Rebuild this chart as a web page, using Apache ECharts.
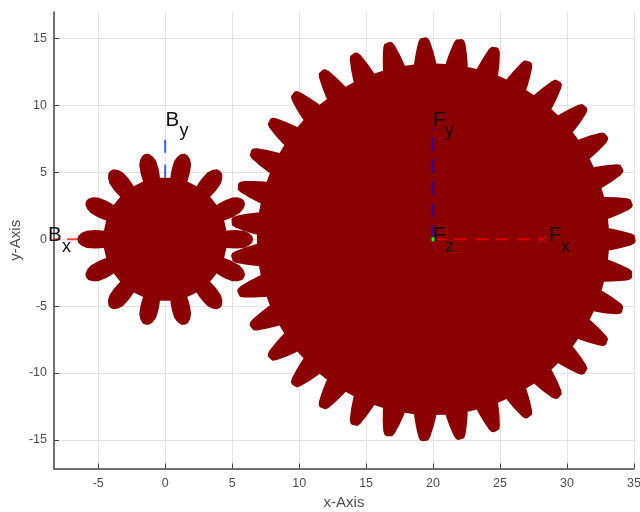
<!DOCTYPE html>
<html>
<head>
<meta charset="utf-8">
<style>html,body{margin:0;padding:0;background:#fff}#c{width:640px;height:512px;filter:blur(0.5px)}</style>
<script src="https://cdn.jsdelivr.net/npm/echarts@6/dist/echarts.min.js"></script>
</head>
<body>
<div id="c"></div>
<script>
const xTicks = [-5, 0, 5, 10, 15, 20, 25, 30, 35];
const yTicks = [-15, -10, -5, 0, 5, 10, 15];
const gearCenterX = [0, 20];
const gearCenterY = [0, 0];
const gearTeeth = [14, 35];
// tooth outline: radius, half angle in degrees, root to tip
const smallToothRadius = [4.62, 4.9, 5.3, 5.9, 6.25, 6.5, 6.56];
const smallToothHalfAngle = [8.0, 7.9, 7.5, 6.3, 4.5, 2.2, 0];
const largeToothRadius = [13.15, 13.3, 14.05, 14.8, 15.05, 15.13];
const largeToothHalfAngle = [3.6, 3.5, 2.65, 1.7, 1.14, 0.5];
const bxLine = [[-0.37, 0], [-8.4, 0]];
const byLine = [[0, -1.0], [0, 8.34]];
const fxLine = [[20, 0], [28.2, 0]];
const fyLine = [[20, 0], [20, 8.34]];
const fzLine = [[20, -0.15], [20, 0.15]];
const fxMark = [[28.2, 0]];
const labelMain = ['B', 'B', 'F', 'F', 'F'];
const labelSub = ['x', 'y', 'x', 'y', 'z'];
const labelX = [-8.74, 0.02, 28.66, 20, 20];
const labelY = [-0.26, 8.41, -0.26, 8.41, -0.26];

function gearPoints(api, idx) {
  const radii = idx === 0 ? smallToothRadius : largeToothRadius;
  const half = idx === 0 ? smallToothHalfAngle : largeToothHalfAngle;
  const pts = [];
  const push = (r, deg) => {
    const a = deg * Math.PI / 180;
    pts.push(api.coord([gearCenterX[idx] + r * Math.cos(a), gearCenterY[idx] + r * Math.sin(a)]));
  };
  for (let t = 0; t < gearTeeth[idx]; t++) {
    const c = t * 360 / gearTeeth[idx];
    for (let i = 0; i < radii.length; i++) push(radii[i], c - half[i]);
    for (let i = radii.length - 2; i >= 0; i--) push(radii[i], c + half[i]);
  }
  return pts;
}
const lineSeries = (data, color, z, dash, width) => ({
  type: 'line', data, z, showSymbol: false, silent: true, clip: false,
  lineStyle: { color, width: width || 2, type: dash || 'solid', cap: 'butt' }
});
const font = 'Liberation Sans, Arial, sans-serif';
const axisCommon = {
  type: 'value',
  nameLocation: 'middle',
  nameMoveOverlap: false,
  nameTextStyle: { color: '#4d4d4d', fontSize: 15, fontFamily: font },
  axisLine: { show: true, onZero: false, lineStyle: { color: '#404040', width: 1.5 } },
  splitLine: { show: true, lineStyle: { color: '#e2e2e2', width: 1 } }
};
const chart = echarts.init(document.getElementById('c'), null, { renderer: 'canvas' });
chart.setOption({
  animation: false,
  backgroundColor: '#fff',
  grid: { left: 54, right: 6, top: 12, bottom: 43.5, outerBoundsMode: 'none' },
  xAxis: Object.assign({}, axisCommon, {
    min: -8.3, max: 35, name: 'x-Axis', nameGap: 27,
    axisTick: { show: true, inside: true, length: 5, customValues: xTicks, lineStyle: { color: '#404040', width: 1 } },
    axisLabel: { customValues: xTicks, color: '#4d4d4d', fontSize: 12.5, fontFamily: font, margin: 9 }
  }),
  yAxis: Object.assign({}, axisCommon, {
    min: -17.14, max: 17, name: 'y-Axis', nameGap: 31,
    axisTick: { show: true, inside: true, length: 5, customValues: yTicks, lineStyle: { color: '#404040', width: 1 } },
    axisLabel: { customValues: yTicks, color: '#4d4d4d', fontSize: 12.5, fontFamily: font, margin: 7 }
  }),
  series: [
    lineSeries(bxLine, '#ff4040', 1, [13, 7]),
    lineSeries(byLine, '#4060f0', 1, [13, 12]),
    {
      type: 'custom', z: 2, silent: true, coordinateSystem: 'cartesian2d',
      data: gearTeeth.map((n, i) => [gearCenterX[i], gearCenterY[i], n]),
      encode: { x: 0, y: 1 },
      renderItem: (params, api) => ({
        type: 'polygon',
        shape: { points: gearPoints(api, params.dataIndex) },
        style: { fill: '#8b0000' }
      })
    },
    lineSeries(fyLine, '#3a0090', 3, [14, 8]),
    lineSeries(fxLine, '#dd0000', 3, [12.5, 8.5]),
    lineSeries(fzLine, '#22ff00', 4, null, 3),
    {
      type: 'scatter', data: fxMark, z: 4, silent: true, symbolSize: 7,
      symbol: 'path://M0,0L10,10M10,0L0,10',
      itemStyle: { color: 'none', borderColor: '#ee1010', borderWidth: 1 }
    },
    {
      type: 'custom', z: 5, silent: true, coordinateSystem: 'cartesian2d', clip: false,
      data: labelMain.map((m, i) => [labelX[i], labelY[i]]),
      encode: { x: 0, y: 1 },
      renderItem: (params, api) => {
        const i = params.dataIndex;
        const p = api.coord([labelX[i], labelY[i]]);
        const dx = labelMain[i] === 'B' ? 14 : 12;
        return {
          type: 'group',
          children: [
            { type: 'text', style: { text: labelMain[i], x: p[0], y: p[1] - 7, fill: '#111', fontSize: 20.5, fontFamily: font, align: 'left', verticalAlign: 'middle' } },
            { type: 'text', style: { text: labelSub[i], x: p[0] + dx, y: p[1] + 4, fill: '#111', fontSize: 18, fontFamily: font, align: 'left', verticalAlign: 'middle' } }
          ]
        };
      }
    }
  ]
});
</script>
</body>
</html>
